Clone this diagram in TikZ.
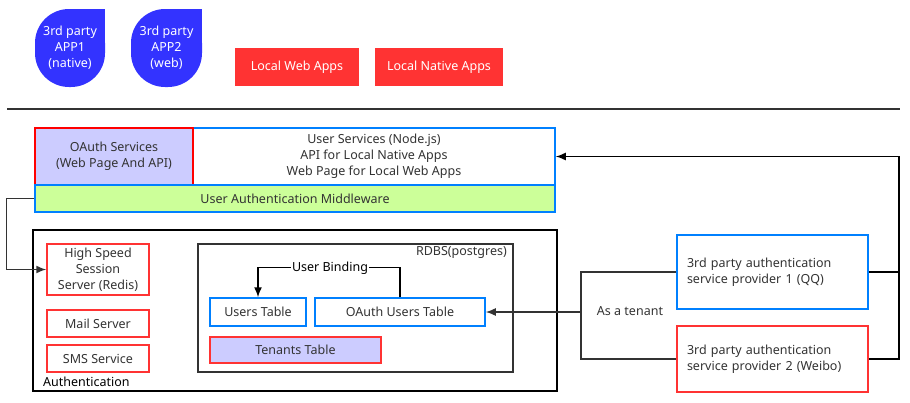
\documentclass[tikz,border=0pt]{standalone}
\usepackage{fontspec}
\setmainfont{Noto Sans}
\usepackage{xcolor}
\usepackage{tikz}
\usetikzlibrary{arrows.meta}

\definecolor{appblue}{HTML}{3333FF}
\definecolor{appred}{HTML}{FF3333}
\definecolor{lavender}{HTML}{CCCCFF}
\definecolor{mwgreen}{HTML}{CCFF99}
\definecolor{linkblue}{HTML}{0080FF}
\definecolor{darkline}{HTML}{333333}

\tikzset{
  every node/.style={font=\fontsize{12.5}{16}\selectfont, text=darkline},
  box/.style={draw, line width=1.5pt, inner sep=0pt, align=center},
  bluebox/.style={box, draw=linkblue, fill=white},
  redbox/.style={box, draw=appred, fill=white},
  appbox/.style={box, draw=none, fill=appred, text=white},
  arr/.style={line width=1.5pt, -{Latex[length=10pt,width=8pt]}},
  wire/.style={line width=1.5pt}
}

\begin{document}
\begin{tikzpicture}[x=1pt, y=-1pt]
            \useasboundingbox (0,0) rectangle (910,402);

            % client apps
            \fill[appblue, rounded corners=34pt] (35,9) rectangle (105,87);
            \fill[appblue] (70,9) rectangle (105,48);
            \node[align=center, text=white] (appone) at (70,48) {3rd party\\APP1\\(native)};
            \fill[appblue, rounded corners=34pt] (131,9) rectangle (202,87);
            \fill[appblue] (166,9) rectangle (202,48);
            \node[align=center, text=white] (apptwo) at (166.5,48) {3rd party\\APP2\\(web)};

            \node[appbox, minimum width=124pt, minimum height=38pt] (webapps) at (297,67) {Local Web Apps};
            \node[appbox, minimum width=128pt, minimum height=38pt] (nativeapps) at (439,67) {Local Native Apps};

            \draw[line width=2pt, darkline] (7,109) -- (900,109);

            % services
            \node[bluebox, minimum width=362pt, minimum height=57pt] (usersvc) at (374,156.5)
                {User Services (Node.js)\\API for Local Native Apps\\Web Page for Local Web Apps};
            \node[box, draw=red, fill=lavender, minimum width=158pt, minimum height=57pt] (oauthsvc) at (114,156.5)
                {OAuth Services\\(Web Page And API)};
            \node[box, draw=linkblue, fill=mwgreen, minimum width=520pt, minimum height=27pt] (mw) at (295,198.5)
                {User Authentication Middleware};

            % authentication
            \draw[line width=2pt, black] (33,230) rectangle (557,391);
            \node[anchor=base west, inner sep=0pt, text=black] (authlabel) at (43,386) {Authentication};
            \node[redbox, minimum width=102pt, minimum height=51pt] (session) at (98,269.5)
                {High Speed\\Session\\Server (Redis)};
            \node[redbox, minimum width=102pt, minimum height=27pt] (mail) at (98,323.5) {Mail Server};
            \node[redbox, minimum width=102pt, minimum height=27pt] (sms) at (98,358.5) {SMS Service};

            \draw[line width=2pt, darkline] (198,244) rectangle (513,372);
            \node[anchor=north east, inner sep=2pt] (rdbs) at (509,244) {RDBS(postgres)};
            \node[bluebox, minimum width=96pt, minimum height=28pt] (users) at (258,312) {Users Table};
            \node[bluebox, minimum width=170pt, minimum height=28pt] (ousers) at (400,312) {OAuth Users Table};
            \node[box, draw=appred, fill=lavender, minimum width=171pt, minimum height=26pt] (tenants) at (295.5,350) {Tenants Table};

            \draw[arr] (ousers.north) -- ++(0,-30) -| (users.north);
            \node[fill=white, inner sep=1pt, text=black] (binding) at (330,268) {User Binding};

            % providers
            \node[bluebox, minimum width=191pt, minimum height=74pt, text width=171pt, align=left] (provone) at (772.5,272)
                {3rd party authentication\\service provider 1 (QQ)};
            \node[redbox, minimum width=191pt, minimum height=66pt, text width=171pt, align=left] (provtwo) at (772.5,359)
                {3rd party authentication\\service provider 2 (Weibo)};

            \coordinate (tenant) at (581,312);
            \draw[wire, darkline] (provone.west) -| (tenant) |- (provtwo.west);
            \draw[arr, darkline] (tenant) -- (ousers.east);
            \node (asten) at (630,311) {As a tenant};

            \draw[wire] (provone.east) -- ++(30,0);
            \draw[arr] (provtwo.east) -- ++(30,0) |- (usersvc.east);

            \draw[arr, darkline] (mw.west) -- ++(-28,0) |- (session.west);
        \end{tikzpicture}
\end{document}
